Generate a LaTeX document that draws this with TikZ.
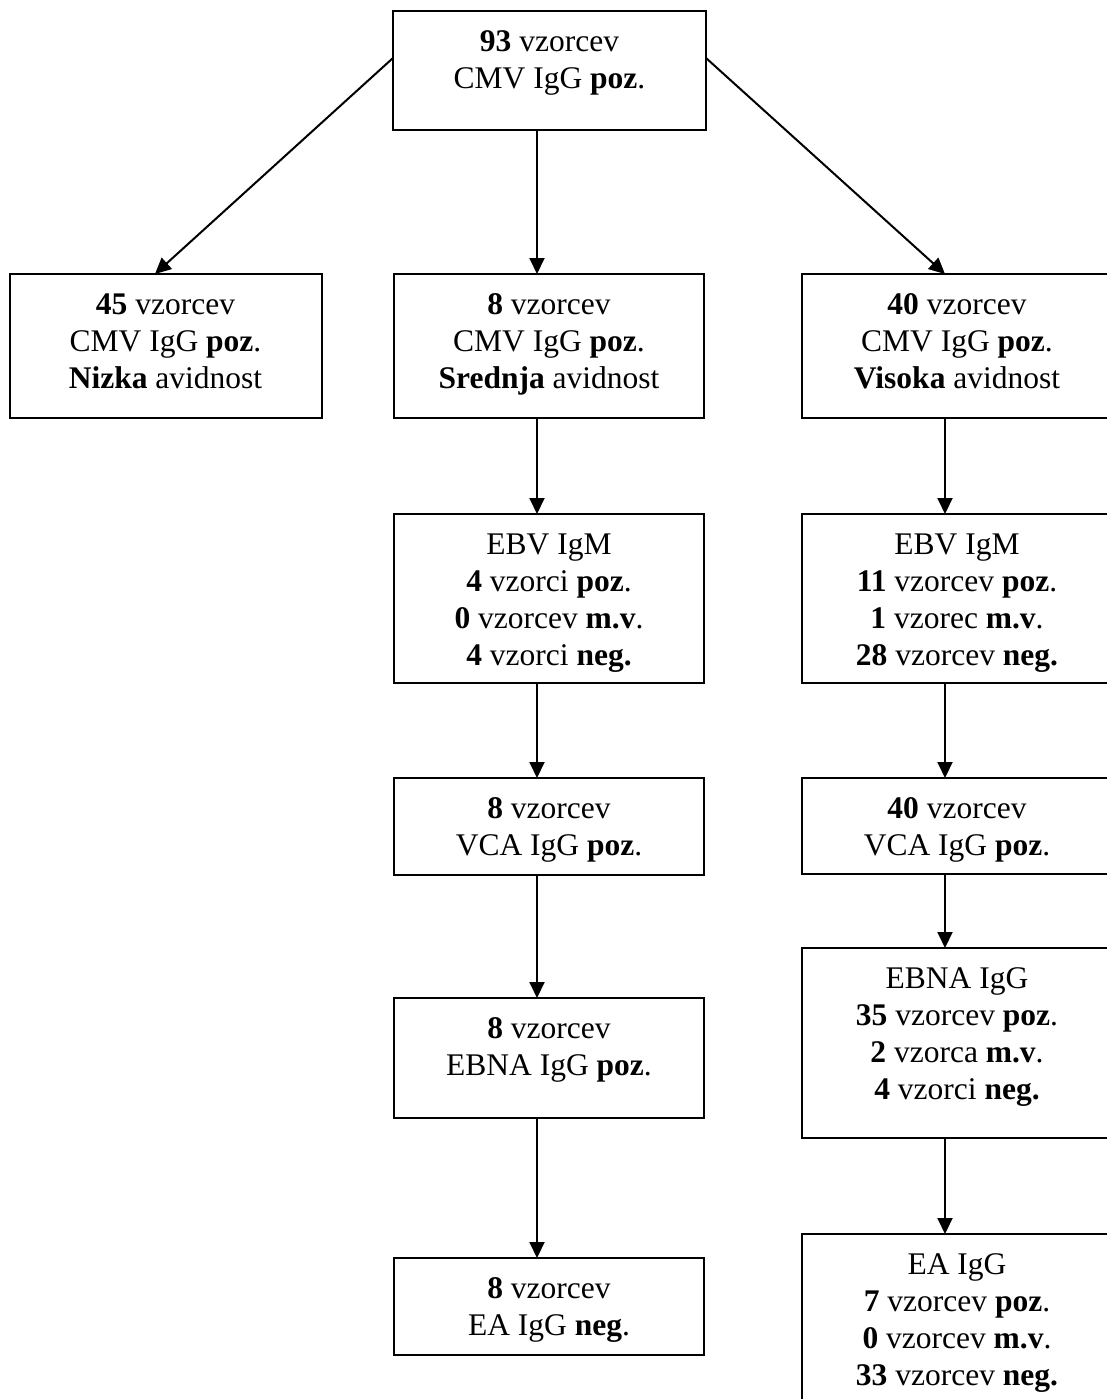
\documentclass[tikz,border=0pt]{standalone}
\usepackage{fontspec}
\setmainfont{Liberation Serif}
\usetikzlibrary{arrows.meta}
\newcommand\boxcontent[3]{\parbox[c][#2][t]{#1}{\centering\vspace*{15pt}\strut #3}}
\begin{document}
\begin{tikzpicture}[x=1pt,y=-1pt,
  box/.style={draw, line width=2pt, inner sep=0pt, outer sep=0pt, anchor=north west,
    font=\fontsize{31.5pt}{37pt}\selectfont},
  arr/.style={line width=2pt, -{Triangle[length=16pt,width=15pt]}}]
\useasboundingbox (0,0) rectangle (1106,1399);
\coordinate (colM) at (537,0);
\coordinate (colR) at (945,0);
\node[box] (top) at (393,11) {\boxcontent{313pt}{119pt}{\textbf{93} vzorcev\\CMV IgG \textbf{poz}.}};
\node[box] (left) at (9.5,274) {\boxcontent{312pt}{144pt}{\textbf{45} vzorcev\\CMV IgG \textbf{poz}.\\\textbf{Nizka} avidnost}};
\node[box] (m1) at (394,274) {\boxcontent{310pt}{144pt}{\textbf{8} vzorcev\\CMV IgG \textbf{poz}.\\\textbf{Srednja} avidnost}};
\node[box] (r1) at (802,274) {\boxcontent{310pt}{144pt}{\textbf{40} vzorcev\\CMV IgG \textbf{poz}.\\\textbf{Visoka} avidnost}};
\node[box] (m2) at (394,514) {\boxcontent{310pt}{169pt}{EBV IgM\\\textbf{4} vzorci \textbf{poz}.\\\textbf{0} vzorcev \textbf{m.v}.\\\textbf{4} vzorci \textbf{neg.}}};
\node[box] (r2) at (802,514) {\boxcontent{310pt}{169pt}{EBV IgM\\\textbf{11} vzorcev \textbf{poz}.\\\textbf{1} vzorec \textbf{m.v}.\\\textbf{28} vzorcev \textbf{neg.}}};
\node[box] (m3) at (394,778) {\boxcontent{310pt}{97pt}{\textbf{8} vzorcev\\VCA IgG \textbf{poz}.}};
\node[box] (r3) at (802,778) {\boxcontent{310pt}{96pt}{\textbf{40} vzorcev\\VCA IgG \textbf{poz}.}};
\node[box] (m4) at (394,998) {\boxcontent{310pt}{120pt}{\textbf{8} vzorcev\\EBNA IgG \textbf{poz}.}};
\node[box] (r4) at (802,948) {\boxcontent{310pt}{190pt}{EBNA IgG\\\textbf{35} vzorcev \textbf{poz}.\\\textbf{2} vzorca \textbf{m.v}.\\\textbf{4} vzorci \textbf{neg.}}};
\node[box] (m5) at (394,1258) {\boxcontent{310pt}{97pt}{\textbf{8} vzorcev\\EA IgG \textbf{neg}.}};
\node[box] (r5) at (802,1234) {\boxcontent{310pt}{200pt}{EA IgG\\\textbf{7} vzorcev \textbf{poz}.\\\textbf{0} vzorcev \textbf{m.v}.\\\textbf{33} vzorcev \textbf{neg.}}};
\draw[arr] ([yshift=12.5pt]top.west) -- ([xshift=-10.5pt]left.north);
\draw[arr] ([yshift=12.5pt]top.east) -- (r1.north -| colR);
\draw[arr] (top.south -| colM) -- (m1.north -| colM);
\draw[arr] (m1.south -| colM) -- (m2.north -| colM);
\draw[arr] (m2.south -| colM) -- (m3.north -| colM);
\draw[arr] (m3.south -| colM) -- (m4.north -| colM);
\draw[arr] (m4.south -| colM) -- (m5.north -| colM);
\draw[arr] (r1.south -| colR) -- (r2.north -| colR);
\draw[arr] (r2.south -| colR) -- (r3.north -| colR);
\draw[arr] (r3.south -| colR) -- (r4.north -| colR);
\draw[arr] (r4.south -| colR) -- (r5.north -| colR);
\end{tikzpicture}
\end{document}
